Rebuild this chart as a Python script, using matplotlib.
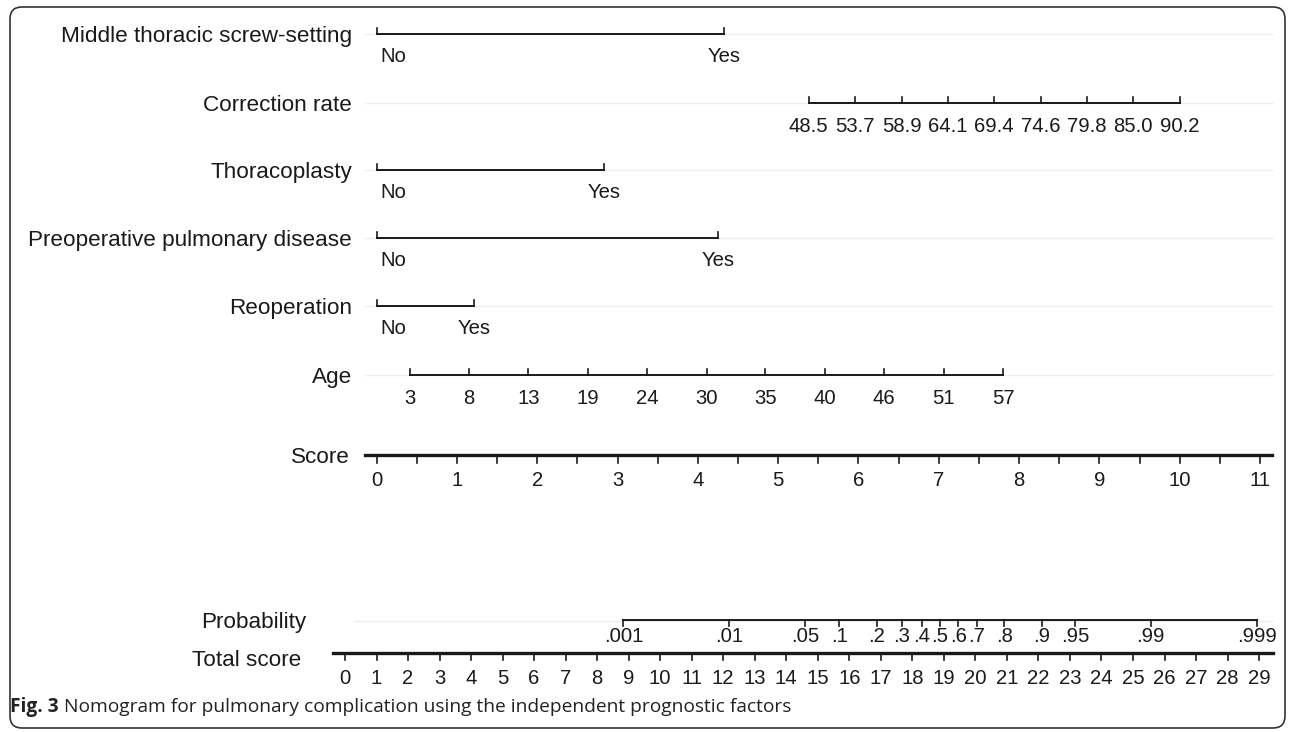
import matplotlib
matplotlib.use("Agg")
import matplotlib.pyplot as plt
import numpy as np
from matplotlib.patches import FancyBboxPatch
from matplotlib.transforms import IdentityTransform

plt.rcParams['font.family'] = ['Liberation Sans', 'DejaVu Sans']

W, H = 1292, 732

# points per predictor level
mts_labels = ["No", "Yes"]
mts_points = [0, 4.33]
cr_labels = ["48.5", "53.7", "58.9", "64.1", "69.4", "74.6", "79.8", "85.0", "90.2"]
cr_points = [5.38, 5.96, 6.54, 7.11, 7.69, 8.27, 8.84, 9.42, 10.0]
thor_labels = ["No", "Yes"]
thor_points = [0, 2.83]
ppd_labels = ["No", "Yes"]
ppd_points = [0, 4.25]
reop_labels = ["No", "Yes"]
reop_points = [0, 1.21]
age_labels = ["3", "8", "13", "19", "24", "30", "35", "40", "46", "51", "57"]
age_points = [0.41, 1.15, 1.89, 2.63, 3.37, 4.11, 4.84, 5.58, 6.32, 7.06, 7.80]

score_ticks = list(range(0, 12))
total_ticks = list(range(0, 30))

prob_labels = [".001", ".01", ".05", ".1", ".2", ".3", ".4", ".5", ".6", ".7",
               ".8", ".9", ".95", ".99", ".999"]
prob_total = [8.83, 12.19, 14.59, 15.68, 16.87, 17.66, 18.30, 18.88, 19.46,
              20.04, 20.91, 22.10, 23.16, 25.56, 28.92]

rows = [
    ("Middle thoracic screw-setting", mts_labels, mts_points, 34),
    ("Correction rate", cr_labels, cr_points, 103),
    ("Thoracoplasty", thor_labels, thor_points, 170),
    ("Preoperative pulmonary disease", ppd_labels, ppd_points, 238),
    ("Reoperation", reop_labels, reop_points, 306),
    ("Age", age_labels, age_points, 375),
]

# layout: pixel anchors of the two scales
s0, spu = 376.7, 80.3      # score 0 position and px per point
t0, tpu = 345.0, 31.52     # total score 0 position and px per point

fig = plt.figure(figsize=(W / 100, H / 100), dpi=100)
ax = fig.add_axes([0, 0, 1, 1])
ax.set_xlim(-s0 / spu, (W - s0) / spu)
ax.set_ylim(H, 0)
ax.axis('off')

ax2 = fig.add_axes([0, 0, 1, 1])
ax2.set_xlim(-t0 / tpu, (W - t0) / tpu)
ax2.set_ylim(H, 0)
ax2.axis('off')
ax2.patch.set_visible(False)

def spx(px):
    return (px - s0) / spu

def tpx(px):
    return (px - t0) / tpu

lab_fs = 16.2
tick_fs = 14.6
black = '#1a1a1a'
grid = '#ededed'

for name, labels, pts, y in rows:
    ax.plot([spx(365), spx(1272)], [y, y], color=grid, lw=1, zorder=1)
    ax.plot([min(pts), max(pts)], [y, y], color=black, lw=1.4, zorder=2)
    for p in pts:
        ax.plot([p, p], [y, y - 6], color=black, lw=1.2, zorder=2)
    for lab, p in zip(labels, pts):
        if lab == "No":
            ax.annotate(lab, (p, y + 23), xytext=(4, 0), textcoords='offset pixels',
                        ha='left', va='center', fontsize=tick_fs, color=black)
        else:
            ax.text(p, y + 23, lab, ha='center', va='center', fontsize=tick_fs, color=black)
    ax.text(spx(352), y + 8, name, ha='right', va='baseline', fontsize=lab_fs, color=black)

# Score axis
ys = 455
ax.plot([spx(365), spx(1272)], [ys, ys], color=black, lw=2.4)
for p in np.arange(0, 11.01, 0.5):
    ax.plot([p, p], [ys, ys + 8], color=black, lw=1.2)
for t in score_ticks:
    ax.text(t, 481, str(t), ha='center', va='center', fontsize=tick_fs, color=black)
ax.text(spx(350), ys + 8, "Score", ha='right', va='baseline', fontsize=lab_fs, color=black)

# Probability axis
yp = 620
ax2.plot([tpx(354), tpx(1272)], [yp + 1, yp + 1], color=grid, lw=1, zorder=1)
ax2.plot([min(prob_total), max(prob_total)], [yp, yp], color=black, lw=1.4, zorder=2)
for p, lab in zip(prob_total, prob_labels):
    ax2.plot([p, p], [yp, yp + 6], color=black, lw=1.2)
    ax2.text(p, 636, lab, ha='center', va='center', fontsize=tick_fs, color=black)
ax2.text(tpx(306), 628, "Probability", ha='right', va='baseline', fontsize=lab_fs, color=black)

# Total score axis
yt = 653
ax2.plot([tpx(333), tpx(1273)], [yt, yt], color=black, lw=2.4)
for t in total_ticks:
    ax2.plot([t, t], [yt, yt + 7], color=black, lw=1.2)
    ax2.text(t, 678, str(t), ha='center', va='center', fontsize=tick_fs, color=black)
ax2.text(tpx(301), 666, "Total score", ha='right', va='baseline', fontsize=lab_fs, color=black)

# frame and caption
frame = FancyBboxPatch((10, 4), 1275, 721, boxstyle="round,pad=0,rounding_size=12",
                       transform=IdentityTransform(), fill=False, edgecolor='#333333', lw=1.2)
fig.patches.append(frame)

cap_y = 1 - 707 / H
t1 = fig.text(10 / W, cap_y, "Fig. 3", fontsize=13.8, fontweight='bold', va='center',
              family=['Open Sans', 'DejaVu Sans'], color='#222222')
fig.canvas.draw()
bb = t1.get_window_extent(renderer=fig.canvas.get_renderer())
fig.text((bb.x1 + 5) / W, cap_y,
         "Nomogram for pulmonary complication using the independent prognostic factors",
         fontsize=13.8, va='center', family=['Open Sans', 'DejaVu Sans'], color='#222222')

fig.savefig("out.png", dpi=100)
